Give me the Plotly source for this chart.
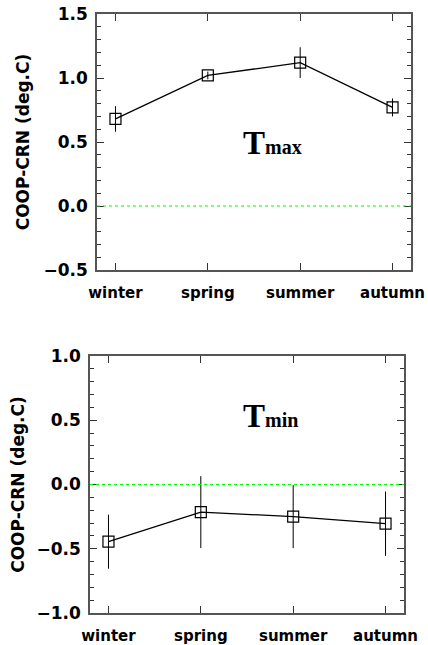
import plotly.graph_objects as go

seasons = ["winter", "spring", "summer", "autumn"]
tmax_vals = [0.68, 1.02, 1.12, 0.77]
tmax_err = [0.10, 0.03, 0.12, 0.07]
tmin_vals = [-0.445, -0.215, -0.25, -0.305]
tmin_err = [0.21, 0.28, 0.245, 0.25]

W, H = 428, 645

def dom_x(a, b):
    return [a / W, b / W]

def dom_y(top, bottom):
    return [(H - bottom) / H, (H - top) / H]

fig = go.Figure()
fig.add_trace(go.Scatter(
    x=seasons, y=tmax_vals, mode="lines+markers",
    line=dict(color="black", width=1.3),
    marker=dict(symbol="square-open", size=11, color="black", line=dict(width=1.2)),
    error_y=dict(type="data", array=tmax_err, visible=True, width=0, thickness=1, color="black"),
    xaxis="x", yaxis="y", showlegend=False))
fig.add_trace(go.Scatter(
    x=seasons, y=tmin_vals, mode="lines+markers",
    line=dict(color="black", width=1.3),
    marker=dict(symbol="square-open", size=11, color="black", line=dict(width=1.2)),
    error_y=dict(type="data", array=tmin_err, visible=True, width=0, thickness=1, color="black"),
    xaxis="x2", yaxis="y2", showlegend=False))

tickfont = dict(family="DejaVu Sans", size=17, color="black", weight="bold")
xtickfont = dict(family="DejaVu Sans", size=15, color="black", weight="bold")
titlefont = dict(family="DejaVu Sans", size=17, color="black", weight="bold")

common_x = dict(
    type="category", range=[-0.2, 3.2], showgrid=False, zeroline=False,
    showline=True, linecolor="#555", linewidth=1.5, mirror="allticks",
    ticks="inside", ticklen=7, tickcolor="#333", tickwidth=1,
    tickfont=xtickfont, ticklabelstandoff=8, automargin=False,
)
common_y = dict(
    showgrid=False, zeroline=False, dtick=0.5, tickformat=".1f",
    showline=True, linecolor="#555", linewidth=1.5, mirror="allticks",
    ticks="inside", ticklen=7, tickcolor="#333", tickwidth=1,
    minor=dict(dtick=0.1, ticks="inside", ticklen=4, tickcolor="#333", tickwidth=1, showgrid=False),
    tickfont=tickfont, ticklabelstandoff=4, automargin=False,
)

fig.update_layout(
    width=W, height=H, margin=dict(l=0, r=0, t=0, b=0),
    paper_bgcolor="white", plot_bgcolor="white",
    xaxis=dict(domain=dom_x(97, 411), anchor="y", **common_x),
    yaxis=dict(domain=dom_y(14, 270), anchor="x", range=[-0.5, 1.5],
               title=dict(text="COOP-CRN (deg.C)", font=titlefont, standoff=10), **common_y),
    xaxis2=dict(domain=dom_x(90, 404), anchor="y2", **common_x),
    yaxis2=dict(domain=dom_y(356, 613), anchor="x2", range=[-1.0, 1.0],
                title=dict(text="COOP-CRN (deg.C)", font=titlefont, standoff=8), **common_y),
)

for xr, yr in [("x domain", "y"), ("x2 domain", "y2")]:
    fig.add_shape(type="line", xref=xr, yref=yr, x0=0, x1=1, y0=0, y1=0,
                  line=dict(color="#00ff00", width=1.2, dash="dot"))

ann_font = dict(family="Liberation Serif", size=33, color="black", weight="bold")
fig.add_annotation(xref="paper", yref="paper", x=241 / W, y=(H - 143) / H,
                   xanchor="left", yanchor="middle", showarrow=False,
                   text="T<span style='font-size:20px'>max</span>", font=ann_font)
fig.add_annotation(xref="paper", yref="paper", x=241 / W, y=(H - 416) / H,
                   xanchor="left", yanchor="middle", showarrow=False,
                   text="T<span style='font-size:20px'>min</span>", font=ann_font)

fig.write_html("out.html", config={"displayModeBar": False},
               post_script="document.body.style.margin='0';document.body.style.overflow='hidden';")
